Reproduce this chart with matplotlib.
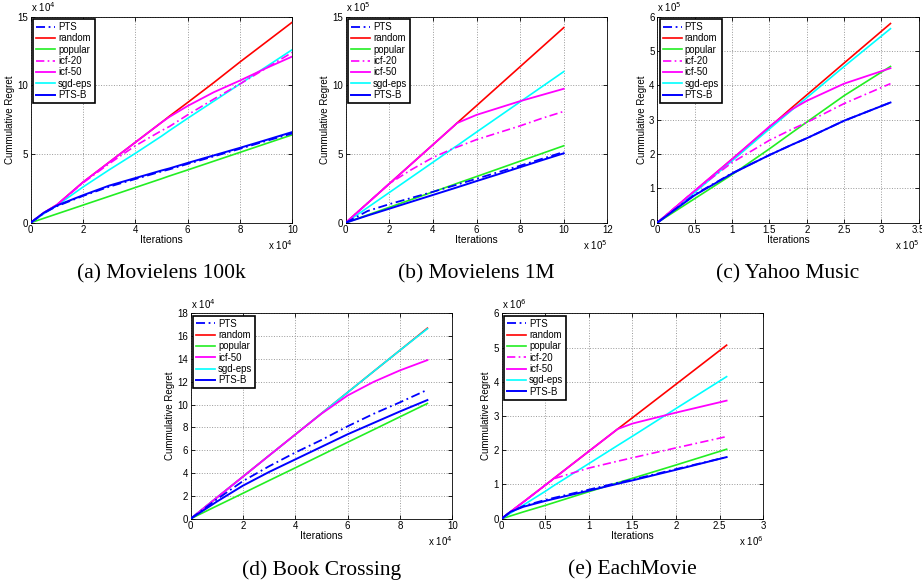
import matplotlib
matplotlib.use("Agg")
import matplotlib.pyplot as plt

plt.rcParams['font.family'] = ['Liberation Sans', 'DejaVu Sans']

# ---------------- data (x in units of the axis multiplier) ----------------
# (a) Movielens 100k  (x 1e4, y 1e4)
a_x = [0, 0.5, 1, 2, 3, 4, 5, 5.3, 6, 7, 8, 9, 10]
a_random = [0, 0.72, 1.3, 2.95, 4.4, 5.85, 7.3, 7.75, 8.75, 10.2, 11.7, 13.15, 14.6]
a_icf50 = [0, 0.72, 1.3, 2.95, 4.4, 5.85, 7.3, 7.7, 8.5, 9.5, 10.35, 11.25, 12.1]
a_icf20 = [0, 0.72, 1.3, 2.9, 4.3, 5.6, 6.7, 7.0, 7.85, 9.0, 10.1, 11.25, 12.4]
a_sgd = [0, 0.65, 1.25, 2.6, 3.85, 5.05, 6.3, 6.7, 7.6, 8.85, 10.1, 11.35, 12.6]
a_popular = [0, 0.32, 0.64, 1.28, 1.92, 2.56, 3.2, 3.4, 3.84, 4.48, 5.12, 5.76, 6.4]
a_ptsb = [0, 0.72, 1.25, 2.0, 2.7, 3.25, 3.8, 3.95, 4.35, 4.9, 5.45, 6.02, 6.6]
a_pts = [0, 0.7, 1.2, 1.95, 2.62, 3.18, 3.73, 3.88, 4.28, 4.83, 5.38, 5.95, 6.5]

# (b) Movielens 1M  (x 1e5, y 1e5)
b_x = [0, 1, 2, 3, 4, 5, 5.1, 6, 7, 8, 9, 10]
b_random = [0, 1.42, 2.84, 4.26, 5.68, 7.1, 7.25, 8.52, 9.94, 11.36, 12.78, 14.2]
b_icf50 = [0, 1.42, 2.84, 4.26, 5.68, 7.1, 7.25, 7.85, 8.35, 8.85, 9.3, 9.75]
b_icf20 = [0, 1.42, 2.85, 3.85, 4.75, 5.45, 5.5, 6.05, 6.55, 7.05, 7.6, 8.1]
b_sgd = [0, 1.1, 2.2, 3.3, 4.4, 5.5, 5.6, 6.6, 7.7, 8.8, 9.9, 11.0]
b_popular = [0, 0.56, 1.12, 1.68, 2.24, 2.8, 2.86, 3.36, 3.92, 4.48, 5.04, 5.6]
b_ptsb = [0, 0.52, 1.02, 1.52, 2.02, 2.52, 2.57, 3.03, 3.53, 4.04, 4.55, 5.05]
b_pts = [0, 0.85, 1.35, 1.8, 2.25, 2.72, 2.77, 3.2, 3.68, 4.15, 4.65, 5.15]

# (c) Yahoo Music  (x 1e5, y 1e5)
c_x = [0, 0.5, 1, 1.5, 1.8, 2, 2.5, 3.12]
c_random = [0, 0.92, 1.85, 2.78, 3.35, 3.72, 4.65, 5.8]
c_icf50 = [0, 0.93, 1.85, 2.8, 3.3, 3.55, 4.05, 4.5]
c_icf20 = [0, 0.93, 1.75, 2.4, 2.72, 2.92, 3.47, 4.05]
c_sgd = [0, 0.88, 1.8, 2.73, 3.28, 3.64, 4.55, 5.65]
c_popular = [0, 0.7, 1.4, 2.15, 2.62, 2.93, 3.7, 4.55]
c_ptsb = [0, 0.8, 1.43, 1.97, 2.27, 2.46, 2.97, 3.5]
c_pts = [0, 0.82, 1.44, 1.97, 2.27, 2.46, 2.97, 3.5]

# (d) Book Crossing  (x 1e4, y 1e4)
d_x = [0, 1, 2, 3, 4, 5, 6, 7, 8, 9.05]
d_random = [0, 1.85, 3.69, 5.54, 7.38, 9.23, 11.07, 12.92, 14.76, 16.7]
d_icf50 = [0, 1.85, 3.69, 5.54, 7.38, 9.2, 10.8, 12.0, 13.0, 13.9]
d_sgd = [0, 1.85, 3.69, 5.54, 7.38, 9.23, 11.07, 12.92, 14.76, 16.65]
d_popular = [0, 1.12, 2.23, 3.35, 4.46, 5.58, 6.7, 7.81, 8.93, 10.1]
d_ptsb = [0, 1.5, 2.9, 4.1, 5.2, 6.3, 7.4, 8.4, 9.4, 10.4]
d_pts = [0, 1.7, 3.3, 4.6, 5.8, 6.9, 8.1, 9.2, 10.2, 11.3]

# (e) EachMovie  (x 1e6, y 1e6)
e_x = [0, 0.1, 0.25, 0.5, 0.6, 1, 1.33, 1.5, 2, 2.58]
e_random = [0, 0.2, 0.49, 0.98, 1.18, 1.97, 2.62, 2.95, 3.93, 5.07]
e_icf50 = [0, 0.2, 0.49, 0.98, 1.18, 1.97, 2.62, 2.78, 3.1, 3.45]
e_icf20 = [0, 0.2, 0.49, 0.98, 1.17, 1.48, 1.68, 1.78, 2.07, 2.4]
e_sgd = [0, 0.16, 0.4, 0.8, 0.97, 1.61, 2.14, 2.41, 3.22, 4.15]
e_popular = [0, 0.08, 0.2, 0.39, 0.47, 0.79, 1.05, 1.18, 1.57, 2.03]
e_ptsb = [0, 0.2, 0.35, 0.52, 0.58, 0.82, 1.02, 1.12, 1.43, 1.8]
e_pts = [0, 0.2, 0.37, 0.55, 0.61, 0.85, 1.05, 1.14, 1.45, 1.8]

captions = ["(a) Movielens 100k", "(b) Movielens 1M", "(c) Yahoo Music",
            "(d) Book Crossing", "(e) EachMovie"]

BLUE = '#0000ff'
RED = '#ff0000'
GREEN = '#22ee22'
MAG = '#ff00ff'
CYAN = '#00ffff'

fig = plt.figure(figsize=(9.22, 5.81), dpi=100)

W = 0.2837
H = 0.3546
panels = [
    dict(rect=[0.0333, 0.6167, W, H], x=a_x, exps=(4, 4), xlim=(0, 10), xt=[0, 2, 4, 6, 8, 10],
         ylim=(0, 15), yt=[0, 5, 10, 15],
         series=[('PTS', a_pts), ('random', a_random), ('popular', a_popular), ('icf-20', a_icf20),
                 ('icf-50', a_icf50), ('sgd-eps', a_sgd), ('PTS-B', a_ptsb)]),
    dict(rect=[0.3750, 0.6167, W, H], x=b_x, exps=(5, 5), xlim=(0, 12), xt=[0, 2, 4, 6, 8, 10, 12],
         ylim=(0, 15), yt=[0, 5, 10, 15],
         series=[('PTS', b_pts), ('random', b_random), ('popular', b_popular), ('icf-20', b_icf20),
                 ('icf-50', b_icf50), ('sgd-eps', b_sgd), ('PTS-B', b_ptsb)]),
    dict(rect=[0.7129, 0.6167, W, H], x=c_x, exps=(5, 5), xlim=(0, 3.5), xt=[0, 0.5, 1, 1.5, 2, 2.5, 3, 3.5],
         ylim=(0, 6), yt=[0, 1, 2, 3, 4, 5, 6],
         series=[('PTS', c_pts), ('random', c_random), ('popular', c_popular), ('icf-20', c_icf20),
                 ('icf-50', c_icf50), ('sgd-eps', c_sgd), ('PTS-B', c_ptsb)]),
    dict(rect=[0.2068, 0.1072, W, 0.3535], x=d_x, exps=(4, 4), xlim=(0, 10), xt=[0, 2, 4, 6, 8, 10],
         ylim=(0, 18), yt=[0, 2, 4, 6, 8, 10, 12, 14, 16, 18],
         series=[('PTS', d_pts), ('random', d_random), ('popular', d_popular),
                 ('icf-50', d_icf50), ('sgd-eps', d_sgd), ('PTS-B', d_ptsb)]),
    dict(rect=[0.5441, 0.1072, W, 0.3535], x=e_x, exps=(6, 6), xlim=(0, 3), xt=[0, 0.5, 1, 1.5, 2, 2.5, 3],
         ylim=(0, 6), yt=[0, 1, 2, 3, 4, 5, 6],
         series=[('PTS', e_pts), ('random', e_random), ('popular', e_popular), ('icf-20', e_icf20),
                 ('icf-50', e_icf50), ('sgd-eps', e_sgd), ('PTS-B', e_ptsb)]),
]

styles = {
    'PTS': dict(color=BLUE, ls=(0, (5, 2, 1, 2)), lw=1.3, zorder=6),
    'random': dict(color=RED, ls='-', lw=1.2, zorder=3),
    'popular': dict(color=GREEN, ls='-', lw=1.2, zorder=3),
    'icf-20': dict(color=MAG, ls=(0, (5, 2, 1, 2)), lw=1.2, zorder=4),
    'icf-50': dict(color=MAG, ls='-', lw=1.3, zorder=4),
    'sgd-eps': dict(color=CYAN, ls='-', lw=1.2, zorder=3),
    'PTS-B': dict(color=BLUE, ls='-', lw=1.4, zorder=5),
}

def fmt(v):
    if float(v).is_integer():
        return str(int(v))
    return ('%g' % v)

for p, cap in zip(panels, captions):
    ax = fig.add_axes(p['rect'])
    for name, ys in p['series']:
        ax.plot(p['x'], ys, label=name, **styles[name])
    ax.set_xlim(*p['xlim'])
    ax.set_ylim(*p['ylim'])
    ax.set_xticks(p['xt'])
    ax.set_xticklabels([fmt(v) for v in p['xt']])
    ax.set_yticks(p['yt'])
    ax.set_yticklabels([fmt(v) for v in p['yt']])
    ax.tick_params(direction='in', length=3, width=0.6, labelsize=7, top=True, right=True, pad=2)
    ax.grid(True, ls=':', color='#999999', lw=0.7)
    for s in ax.spines.values():
        s.set_linewidth(0.6)
    ax.set_xlabel('Iterations', fontsize=7.5, labelpad=0)
    ax.set_ylabel('Cummulative Regret', fontsize=7, labelpad=1.5)
    ax.text(0.0, 1.012, r'x 10$^{%d}$' % p['exps'][1], transform=ax.transAxes,
            fontsize=7, ha='left', va='bottom')
    ax.text(1.0, -0.075, r'x 10$^{%d}$' % p['exps'][0], transform=ax.transAxes,
            fontsize=7, ha='right', va='top')
    leg = ax.legend(loc='upper left', fontsize=6.9, frameon=True, fancybox=False,
                    borderaxespad=0.25, handlelength=2.0, handletextpad=0.3,
                    labelspacing=0.14, borderpad=0.3)
    leg.get_frame().set_edgecolor('black')
    leg.get_frame().set_linewidth(1.2)
    leg.get_frame().set_alpha(1)
    leg.set_zorder(10)
    ax.text(0.5, -0.2, cap, transform=ax.transAxes, fontsize=15.5,
            family='Liberation Serif', ha='center', va='top')

fig.savefig('out.png', dpi=100)
